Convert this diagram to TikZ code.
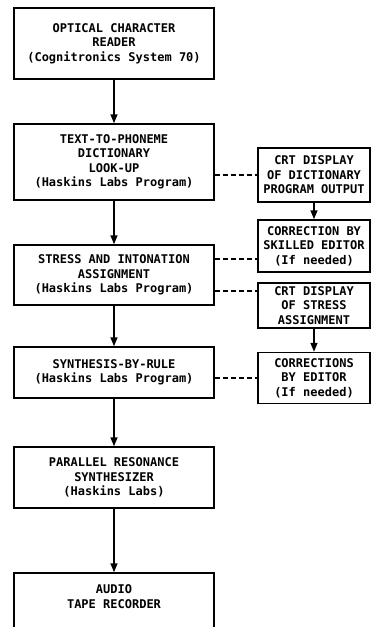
\documentclass[tikz,border=0pt]{standalone}
\usepackage{fontspec}
\setmonofont{DejaVu Sans Mono}
\usetikzlibrary{arrows.meta, positioning}

\begin{document}
\begin{tikzpicture}[x=1pt, y=-1pt,
   box/.style={draw, line width=1.5pt, align=center, inner sep=2pt,
      font=\ttfamily\bfseries\fontsize{12}{14.5}\selectfont},
   flow/.style={-{Triangle[length=9pt, width=7pt]}, line width=1.5pt},
   link/.style={dash pattern=on 5pt off 3pt, line width=1.5pt}]
   \useasboundingbox (0,0) rectangle (372,627);
   \clip (0,0) rectangle (372,627);
   % main chain
   \node[box, minimum width=200pt, minimum height=71pt] (ocr) at (114,43.5)
      {OPTICAL CHARACTER\\READER\\(Cognitronics System 70)};
   \node[box, minimum width=200pt, minimum height=76pt] (dict) at (114,162)
      {TEXT-TO-PHONEME\\DICTIONARY\\LOOK-UP\\(Haskins Labs Program)};
   \node[box, minimum width=200pt, minimum height=60pt] (stress) at (114,275)
      {STRESS AND INTONATION\\ASSIGNMENT\\(Haskins Labs Program)};
   \node[box, minimum width=200pt, minimum height=51pt] (rule) at (114,372.5)
      {SYNTHESIS-BY-RULE\\(Haskins Labs Program)};
   \node[box, minimum width=200pt, minimum height=61pt] (synth) at (114,477.5)
      {PARALLEL RESONANCE\\SYNTHESIZER\\(Haskins Labs)};
   \node[box, minimum width=200pt, minimum height=68pt, text depth=21pt] (tape) at (114,607)
      {AUDIO\\TAPE RECORDER};
   % editing side
   \node[box, minimum width=112pt, minimum height=54pt] (crtdict) at (314,175)
      {CRT DISPLAY\\OF DICTIONARY\\PROGRAM OUTPUT};
   \node[box, minimum width=112pt, minimum height=52pt] (editone) at (314,246)
      {CORRECTION BY\\SKILLED EDITOR\\(If needed)};
   \node[box, minimum width=112pt, minimum height=45pt] (crtstress) at (314,305.5)
      {CRT DISPLAY\\OF STRESS\\ASSIGNMENT};
   \node[box, minimum width=112pt, minimum height=51pt] (edittwo) at (314,378)
      {CORRECTIONS\\BY EDITOR\\(If needed)};

   \draw[flow] (ocr) -- (dict);
   \draw[flow] (dict) -- (stress);
   \draw[flow] (stress) -- (rule);
   \draw[flow] (rule) -- (synth);
   \draw[flow] (synth) -- (tape);
   \draw[flow] (crtdict) -- (editone);
   \draw[flow] (crtstress) -- (edittwo);

   \coordinate (sa) at ([yshift=16pt]stress.east);
   \coordinate (sb) at ([yshift=-16pt]stress.east);
   \draw[link] (dict.east |- crtdict.west) -- (crtdict.west);
   \draw[link] (sa) -- (sa -| editone.west);
   \draw[link] (sb) -- (sb -| crtstress.west);
   \draw[link] (rule.east |- edittwo.west) -- (edittwo.west);
\end{tikzpicture}
\end{document}
